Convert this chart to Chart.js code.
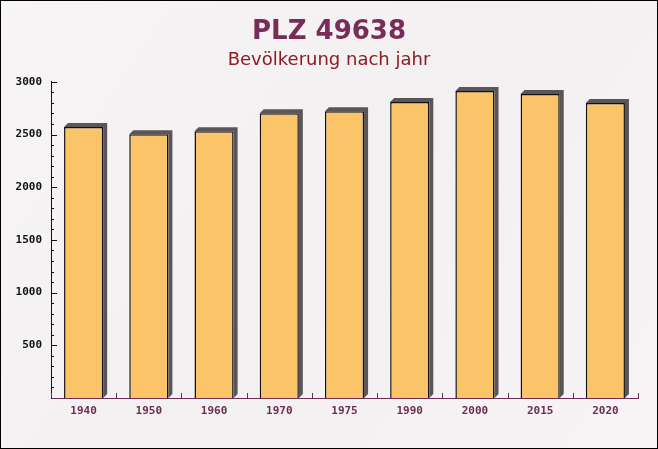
<!DOCTYPE html>
<html>
<head>
<meta charset="utf-8">
<script src="https://cdn.jsdelivr.net/npm/chart.js@4/dist/chart.umd.min.js"></script>
<style>
    body { margin: 0; background: #ffffff; }
    #plz-chart { display: block; }
</style>
</head>
<body>
<canvas id="plz-chart" width="658" height="449"></canvas>
<script>
let years = ["1940", "1950", "1960", "1970", "1975", "1990", "2000", "2015", "2020"];
let population = [2570, 2502, 2531, 2701, 2720, 2808, 2913, 2884, 2799];
let yTicks = [500, 1000, 1500, 2000, 2500, 3000];

const axisPurple = "#6b2d55";

// background, frame, bar shadows and the little inward ticks
const decorPlugin = {
    id: "decor",
    beforeDraw(chart) {
        const ctx = chart.ctx;
        ctx.save();
        let grad = ctx.createLinearGradient(0, 0, chart.width, chart.height);
        grad.addColorStop(0, "#f7f5f6");
        grad.addColorStop(0.5, "#f2f0f1");
        grad.addColorStop(1, "#f6f4f5");
        ctx.fillStyle = grad;
        ctx.fillRect(0, 0, chart.width, chart.height);
        ctx.restore();
    },
    beforeDatasetsDraw(chart) {
        const ctx = chart.ctx;
        const meta = chart.getDatasetMeta(0);
        ctx.save();
        ctx.fillStyle = "#5b5559";
        meta.data.forEach(bar => {
            let half = bar.width / 2;
            let left = bar.x - half, right = bar.x + half;
            let top = bar.y, bottom = bar.base;
            ctx.beginPath();
            ctx.moveTo(left, top);
            ctx.lineTo(left + 4, top - 4);
            ctx.lineTo(right + 4, top - 4);
            ctx.lineTo(right + 4, bottom - 4);
            ctx.lineTo(right, bottom);
            ctx.lineTo(right, top);
            ctx.closePath();
            ctx.fill();
        });
        ctx.restore();
    },
    afterDraw(chart) {
        const ctx = chart.ctx;
        const y = chart.scales.y, x = chart.scales.x;
        const area = chart.chartArea;
        ctx.save();
        ctx.lineWidth = 1;
        ctx.strokeStyle = "#111";
        for (let v = 100; v <= 3000; v += 100) {
            let py = Math.round(y.getPixelForValue(v)) + 0.5;
            let len = v % 500 === 0 ? 6 : 3;
            ctx.beginPath();
            ctx.moveTo(area.left, py);
            ctx.lineTo(area.left + len, py);
            ctx.stroke();
        }
        ctx.strokeStyle = axisPurple;
        for (let i = 0; i <= years.length; i++) {
            let px = Math.round(x.getPixelForValue(i - 0.5)) + 0.5;
            ctx.beginPath();
            ctx.moveTo(px, area.bottom);
            ctx.lineTo(px, area.bottom - 5);
            ctx.stroke();
        }
        ctx.strokeStyle = "#000";
        ctx.strokeRect(0.5, 0.5, chart.width - 1, chart.height - 1);
        ctx.restore();
    }
};

let plzChart = new Chart(document.getElementById("plz-chart").getContext("2d"), {
    type: "bar",
    data: {
        labels: years,
        datasets: [{
            data: population,
            backgroundColor: "#fbc468",
            borderColor: "#111",
            borderWidth: 1.5,
            categoryPercentage: 1,
            barPercentage: 0.6
        }]
    },
    options: {
        responsive: false,
        animation: false,
        layout: {
            padding: 0
        },
        plugins: {
            legend: { display: false },
            tooltip: { enabled: false },
            title: {
                display: true,
                text: "PLZ 49638",
                color: "#7a2c58",
                font: { family: "DejaVu Sans", size: 26, weight: "bold" },
                padding: { top: 17, bottom: 1 }
            },
            subtitle: {
                display: true,
                text: "Bevölkerung nach jahr",
                color: "#8e1b22",
                font: { family: "DejaVu Sans", size: 18 },
                padding: { top: 0, bottom: 11 }
            }
        },
        scales: {
            x: {
                grid: { display: false, drawTicks: false },
                border: { display: true, color: axisPurple, width: 1 },
                ticks: {
                    color: axisPurple,
                    padding: 7,
                    font: { family: "DejaVu Sans Mono", size: 11, weight: "bold" }
                },
                afterFit(scale) { scale.height = 51; }
            },
            y: {
                min: 0,
                max: 3000,
                afterBuildTicks(scale) {
                    scale.ticks = [0].concat(yTicks).map(v => ({ value: v }));
                },
                grid: { display: false, drawTicks: false },
                border: { display: true, color: "#111", width: 1 },
                ticks: {
                    color: "#111",
                    padding: 9,
                    font: { family: "DejaVu Sans Mono", size: 11, weight: "bold" },
                    callback: v => v === 0 ? "" : String(v)
                },
                afterFit(scale) { scale.width = 51; }
            },
            // empty right axis only to keep the right margin
            yRight: {
                position: "right",
                min: 0,
                max: 3000,
                grid: { display: false, drawTicks: false },
                border: { display: false },
                ticks: { display: false },
                afterFit(scale) { scale.width = 20; }
            }
        }
    },
    plugins: [decorPlugin]
});
</script>
</body>
</html>
